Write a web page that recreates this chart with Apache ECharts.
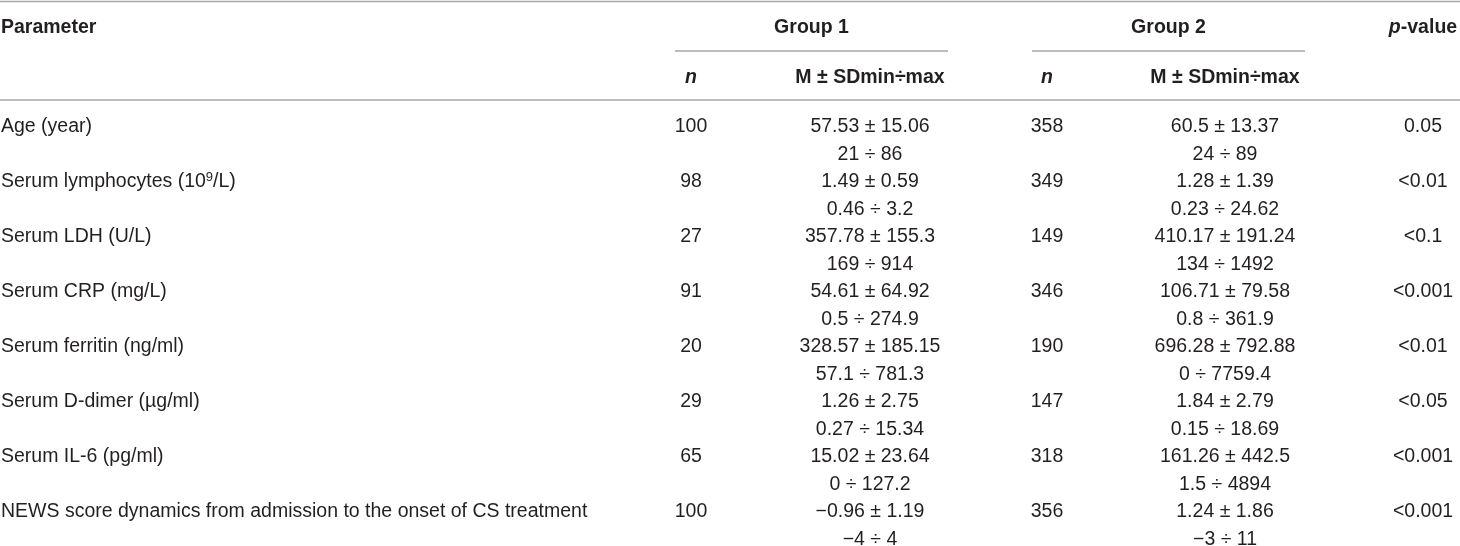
<!DOCTYPE html>
<html>
<head>
<meta charset="utf-8">
<script src="https://cdn.jsdelivr.net/npm/echarts@6/dist/echarts.min.js"></script>
<style>
  html, body { margin: 0; padding: 0; background: #fff; }
  #main { width: 1460px; height: 546px; }
</style>
</head>
<body>
<div id="main"></div>
<script>
// table content
var parameters = [
    'Age (year)',
    'Serum lymphocytes (10^9/L)',
    'Serum LDH (U/L)',
    'Serum CRP (mg/L)',
    'Serum ferritin (ng/ml)',
    'Serum D-dimer (\u00b5g/ml)',
    'Serum IL-6 (pg/ml)',
    'NEWS score dynamics from admission to the onset of CS treatment'
];
var g1N   = [100, 98, 27, 91, 20, 29, 65, 100];
var g1M   = [57.53, 1.49, 357.78, 54.61, 328.57, 1.26, 15.02, -0.96];
var g1SD  = [15.06, 0.59, 155.3, 64.92, 185.15, 2.75, 23.64, 1.19];
var g1Min = [21, 0.46, 169, 0.5, 57.1, 0.27, 0, -4];
var g1Max = [86, 3.2, 914, 274.9, 781.3, 15.34, 127.2, 4];
var g2N   = [358, 349, 149, 346, 190, 147, 318, 356];
var g2M   = [60.5, 1.28, 410.17, 106.71, 696.28, 1.84, 161.26, 1.24];
var g2SD  = [13.37, 1.39, 191.24, 79.58, 792.88, 2.79, 442.5, 1.86];
var g2Min = [24, 0.23, 134, 0.8, 0, 0.15, 1.5, -3];
var g2Max = [89, 24.62, 1492, 361.9, 7759.4, 18.69, 4894, 11];
var pValues = ['0.05', '<0.01', '<0.1', '<0.001', '<0.01', '<0.05', '<0.001', '<0.001'];

// layout (pixel units of the hidden axes)
var W = 1460, H = 546;
var col = {param: 1, g1n: 691, g1m: 870, g2n: 1047, g2m: 1225, p: 1423};
var g1Span = [675, 948], g2Span = [1032, 1305];
var headY = 28, groupLineY = 51, subY = 78, headLineY = 100, topLineY = 1.5;
var rowTop = 127, rowStep = 55, lineGap = 27.5;

var FONT = '"Liberation Sans", Arial, sans-serif';
var TEXT_COLOR = '#231f20';

function num(v) {
    return String(v).replace('-', '\u2212');
}

var cells = [];
function cell(x, y, text, align, opts) {
    cells.push(Object.assign({x: x, y: y, text: text, align: align}, opts || {}));
}

// header
cell(col.param, headY, 'Parameter', 'left', {bold: true});
cell((g1Span[0] + g1Span[1]) / 2, headY, 'Group 1', 'center', {bold: true});
cell((g2Span[0] + g2Span[1]) / 2, headY, 'Group 2', 'center', {bold: true});
cell(col.p, headY, '{bi|p}-value', 'center', {bold: true});
cell(col.g1n, subY, '{bi|n}', 'center', {bold: true});
cell(col.g1m, subY, 'M \u00b1 SDmin\u00f7max', 'center', {bold: true});
cell(col.g2n, subY, '{bi|n}', 'center', {bold: true});
cell(col.g2m, subY, 'M \u00b1 SDmin\u00f7max', 'center', {bold: true});

// body
parameters.forEach(function (name, i) {
    var y = rowTop + i * rowStep;
    cell(col.param, y, name.replace(/\^(\d+)/, '{sup|$1}'), 'left');
    cell(col.g1n, y, String(g1N[i]), 'center');
    cell(col.g1m, y, num(g1M[i]) + ' \u00b1 ' + num(g1SD[i]), 'center');
    cell(col.g1m, y + lineGap, num(g1Min[i]) + ' \u00f7 ' + num(g1Max[i]), 'center');
    cell(col.g2n, y, String(g2N[i]), 'center');
    cell(col.g2m, y, num(g2M[i]) + ' \u00b1 ' + num(g2SD[i]), 'center');
    cell(col.g2m, y + lineGap, num(g2Min[i]) + ' \u00f7 ' + num(g2Max[i]), 'center');
    cell(col.p, y, pValues[i], 'center');
});

var rules = [
    [0, W, topLineY],
    [g1Span[0], g1Span[1], groupLineY],
    [g2Span[0], g2Span[1], groupLineY],
    [0, W, headLineY]
];

var chart = echarts.init(document.getElementById('main'), null, {renderer: 'canvas'});
chart.setOption({
    animation: false,
    backgroundColor: '#fff',
    grid: {left: 0, right: 0, top: 0, bottom: 0},
    xAxis: {type: 'value', min: 0, max: W, show: false},
    yAxis: {type: 'value', min: 0, max: H, inverse: true, show: false},
    series: [
        {
            type: 'custom',
            silent: true,
            data: rules,
            renderItem: function (params, api) {
                var a = api.coord([api.value(0), api.value(2)]);
                var b = api.coord([api.value(1), api.value(2)]);
                return {
                    type: 'line',
                    shape: {x1: a[0], y1: a[1], x2: b[0], y2: b[1]},
                    style: {stroke: '#a6a6a6', lineWidth: 1.6}
                };
            }
        },
        {
            type: 'custom',
            silent: true,
            data: cells.map(function (c) { return [c.x, c.y]; }),
            renderItem: function (params, api) {
                var c = cells[params.dataIndex];
                var p = api.coord([api.value(0), api.value(1)]);
                return {
                    type: 'text',
                    x: p[0],
                    y: p[1],
                    style: {
                        text: c.text,
                        align: c.align,
                        verticalAlign: 'middle',
                        fontFamily: FONT,
                        fontSize: 19.5,
                        fontWeight: c.bold ? 'bold' : 'normal',
                        fill: TEXT_COLOR,
                        rich: {
                            bi: {fontFamily: FONT, fontSize: 19.5, fontWeight: 'bold', fontStyle: 'italic', fill: TEXT_COLOR},
                            sup: {fontFamily: FONT, fontSize: 13, verticalAlign: 'top', lineHeight: 22, fill: TEXT_COLOR}
                        }
                    }
                };
            }
        }
    ]
});
</script>
</body>
</html>
